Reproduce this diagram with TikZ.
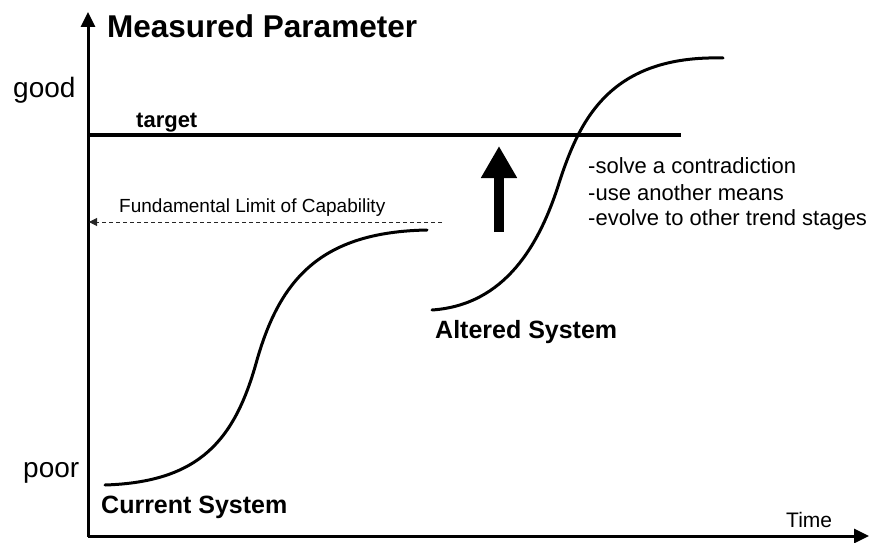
\documentclass[tikz,border=0pt]{standalone}
\usepackage{fontspec}
\setmainfont{Liberation Sans}
\usetikzlibrary{arrows.meta}
\tikzset{
  axisline/.style={line width=3pt, -{Triangle[length=15pt,width=14pt]}},
  curveline/.style={line width=3pt, line cap=round},
  lbl/.style={inner sep=0pt, anchor=base west},
  fsz/.style={font=\fontsize{#1}{#1}\selectfont},
  bfsz/.style={font=\fontsize{#1}{#1}\selectfont\bfseries},
}
\begin{document}
\begin{tikzpicture}[x=1pt,y=-1pt]
\useasboundingbox (0,0) rectangle (870,543);
% axes
\coordinate (origin) at (88,537);
\coordinate (ytip) at (88,12);
\coordinate (xtip) at (869,536);
\draw[axisline] (origin) -- (ytip);
\draw[axisline] (88,536) -- (xtip);
% target line
\coordinate (tgtL) at (88,135);
\coordinate (tgtR) at (681,135);
\draw[line width=3.5pt] (tgtL) -- (tgtR);
% fundamental limit
\coordinate (limR) at (442,222);
\coordinate (limL) at (89,222);
\draw[line width=1pt, black!85, dash pattern=on 4pt off 3pt, -{Triangle[length=8pt,width=8pt]}] (limR) -- (limL);
% big arrow
\coordinate (bigB) at (499,232);
\coordinate (bigT) at (499,146);
\draw[line width=10pt, -{Triangle[length=32pt,width=34pt]}] (bigB) -- (bigT);
% curves
\draw[curveline] (105,485) .. controls (200,482) and (235,440) .. (257,360)
  .. controls (280,280) and (320,232) .. (427,230);
\draw[curveline] (432,310) .. controls (505,305) and (540,245) .. (560,180)
  .. controls (580,120) and (610,55) .. (723,58);
% labels
\node[lbl, bfsz=31.5] (title) at (107,38) {Measured Parameter};
\node[lbl, fsz=28] (good) at (13,97) {good};
\node[lbl, fsz=28] (poor) at (23,477) {poor};
\node[lbl, bfsz=22] (target) at (136,127) {target};
\node[lbl, fsz=19] (flc) at (119,212) {Fundamental Limit of Capability};
\node[lbl, fsz=22] (b1) at (588,173) {-solve a contradiction};
\node[lbl, fsz=22] (b2) at (588,200) {-use another means};
\node[lbl, fsz=22] (b3) at (588,225) {-evolve to other trend stages};
\node[lbl, bfsz=25] (alt) at (435,338) {Altered System};
\node[lbl, bfsz=25] (cur) at (101,513) {Current System};
\node[lbl, fsz=21] (time) at (786,527) {Time};
\end{tikzpicture}
\end{document}
